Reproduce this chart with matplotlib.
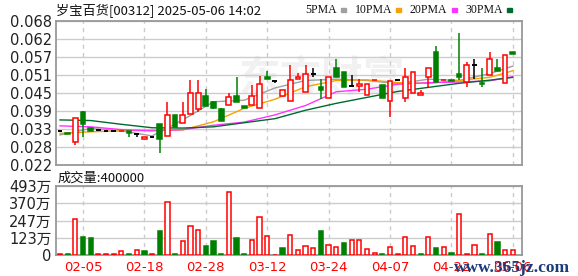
import numpy as np
import matplotlib
matplotlib.use('Agg')
import matplotlib.pyplot as plt

plt.rcParams['font.family'] = ['DejaVu Sans', 'Noto Sans CJK SC']

# daily OHLC (price), one row per trading day
opens = [0.0330, 0.0322, 0.0292, 0.0390, 0.0339, 0.0331, 0.0329, 0.0329, 0.0328, 0.0329,
         0.0319, 0.0302, 0.0308, 0.0351, 0.0312, 0.0380, 0.0353, 0.0383, 0.0399, 0.0440,
         0.0422, 0.0399, 0.0412, 0.0440, 0.0408, 0.0412, 0.0401, 0.0502, 0.0489, 0.0441,
         0.0424, 0.0494, 0.0452, 0.0511, 0.0468, 0.0433, 0.0529, 0.0518, 0.0472, 0.0472,
         0.0443, 0.0491, 0.0476, 0.0424, 0.0491, 0.0433, 0.0451, 0.0444, 0.0502, 0.0580,
         0.0491, 0.0490, 0.0511, 0.0486, 0.0539, 0.0481, 0.0507, 0.0529, 0.0481, 0.0581]
highs = [0.0330, 0.0322, 0.0369, 0.0391, 0.0339, 0.0331, 0.0329, 0.0329, 0.0330, 0.0329,
         0.0319, 0.0308, 0.0308, 0.0352, 0.0422, 0.0380, 0.0422, 0.0492, 0.0492, 0.0462,
         0.0424, 0.0401, 0.0449, 0.0502, 0.0408, 0.0476, 0.0504, 0.0521, 0.0489, 0.0460,
         0.0539, 0.0513, 0.0539, 0.0529, 0.0494, 0.0500, 0.0558, 0.0518, 0.0509, 0.0495,
         0.0478, 0.0493, 0.0476, 0.0489, 0.0491, 0.0530, 0.0518, 0.0460, 0.0529, 0.0600,
         0.0493, 0.0490, 0.0643, 0.0549, 0.0558, 0.0529, 0.0580, 0.0558, 0.0571, 0.0581]
lows = [0.0330, 0.0320, 0.0283, 0.0310, 0.0330, 0.0331, 0.0329, 0.0329, 0.0328, 0.0311,
        0.0310, 0.0302, 0.0308, 0.0259, 0.0312, 0.0342, 0.0353, 0.0383, 0.0390, 0.0409,
        0.0399, 0.0359, 0.0412, 0.0422, 0.0403, 0.0412, 0.0401, 0.0494, 0.0481, 0.0441,
        0.0424, 0.0494, 0.0452, 0.0502, 0.0430, 0.0433, 0.0502, 0.0470, 0.0468, 0.0453,
        0.0443, 0.0491, 0.0433, 0.0372, 0.0491, 0.0422, 0.0451, 0.0444, 0.0470, 0.0486,
        0.0491, 0.0488, 0.0492, 0.0470, 0.0494, 0.0470, 0.0507, 0.0521, 0.0481, 0.0574]
closes = [0.0330, 0.0320, 0.0369, 0.0352, 0.0330, 0.0331, 0.0329, 0.0329, 0.0330, 0.0322,
          0.0319, 0.0308, 0.0308, 0.0302, 0.0380, 0.0342, 0.0380, 0.0449, 0.0449, 0.0409,
          0.0401, 0.0361, 0.0438, 0.0422, 0.0403, 0.0440, 0.0479, 0.0494, 0.0489, 0.0460,
          0.0492, 0.0500, 0.0511, 0.0511, 0.0460, 0.0500, 0.0502, 0.0470, 0.0472, 0.0480,
          0.0478, 0.0493, 0.0433, 0.0489, 0.0491, 0.0500, 0.0518, 0.0451, 0.0529, 0.0486,
          0.0493, 0.0488, 0.0502, 0.0539, 0.0539, 0.0479, 0.0558, 0.0521, 0.0571, 0.0574]

# volume in 万 and whether the volume bar is drawn red (1) or green (0)
volume = [5, 5, 254, 128, 121, 5, 5, 5, 26, 5,
          33, 28, 5, 171, 382, 5, 100, 204, 182, 64,
          100, 5, 453, 121, 5, 104, 275, 133, 0, 50,
          140, 33, 64, 50, 171, 71, 57, 85, 104, 104,
          40, 14, 5, 55, 5, 126, 62, 5, 126, 50,
          55, 14, 292, 5, 69, 5, 147, 92, 36, 36]
vol_up = [1, 0, 1, 0, 0, 1, 1, 1, 1, 0,
          1, 0, 1, 0, 1, 0, 1, 1, 1, 0,
          0, 0, 1, 0, 0, 1, 1, 1, 1, 0,
          1, 1, 1, 1, 0, 1, 1, 0, 1, 1,
          1, 1, 0, 1, 1, 1, 1, 0, 1, 0,
          1, 0, 1, 1, 1, 0, 1, 0, 1, 1]

# moving averages at every 4th day
ma_idx = [0, 4, 8, 12, 16, 20, 24, 28, 32, 36, 40, 44, 48, 52, 56, 59]
ma5 = [0.0316, 0.0337, 0.0329, 0.0313, 0.0364, 0.0422, 0.0427, 0.0466,
       0.0490, 0.0494, 0.0490, 0.0480, 0.0494, 0.0490, 0.0512, 0.0536]
ma10 = [0.0321, 0.0326, 0.0329, 0.0331, 0.0332, 0.0358, 0.0401, 0.0430,
        0.0470, 0.0490, 0.0492, 0.0483, 0.0481, 0.0490, 0.0500, 0.0521]
ma20 = [0.0345, 0.0342, 0.0333, 0.0329, 0.0333, 0.0347, 0.0357, 0.0380,
        0.0410, 0.0454, 0.0462, 0.0478, 0.0483, 0.0485, 0.0489, 0.0502]
ma30 = [0.0364, 0.0362, 0.0350, 0.0339, 0.0338, 0.0342, 0.0355, 0.0368,
        0.0395, 0.0417, 0.0436, 0.0455, 0.0468, 0.0481, 0.0491, 0.0500]

tick_idx = [3, 11, 19, 27, 35, 43, 51, 59]
tick_lbl = ['02-05', '02-18', '02-28', '03-12', '03-24', '04-07', '04-22', '05-06']
price_ticks = [0.022, 0.02775, 0.0335, 0.03925, 0.045, 0.05075, 0.0565, 0.06225, 0.068]
price_lbl = ['0.022', '0.028', '0.033', '0.039', '0.045', '0.051', '0.057', '0.062', '0.068']
vol_ticks = [0, 123.25, 246.5, 369.75, 493]
vol_lbl = ['0', '123万', '247万', '370万', '493万']

RED = '#ff0000'
GREEN = '#008000'
GRID = '#cccccc'
BORDER = '#999999'

fig = plt.figure(figsize=(5.78, 2.76), dpi=100)
ax = fig.add_axes([56 / 578, 1 - 165 / 276, 466 / 578, 144 / 276])
axv = fig.add_axes([56 / 578, 1 - 255 / 276, 466 / 578, 69 / 276])

x = np.arange(len(closes))
w = 0.62

# faint watermark behind candles
ax.text(0.57, 0.6, '东方财富', transform=ax.transAxes, fontsize=30, color='#f1f1f1',
        ha='center', va='center', family=['Noto Sans CJK SC'], fontweight='bold', zorder=0)

for i in x:
    o, h, l, c = opens[i], highs[i], lows[i], closes[i]
    if c > o:
        col, face = RED, 'white'
    elif c < o:
        col, face = GREEN, GREEN
    else:
        col, face = 'black', 'black'
    top, bot = max(o, c), min(o, c)
    if h > top:
        ax.vlines(i, top, h, color=col, lw=1.1, zorder=3)
    if l < bot:
        ax.vlines(i, l, bot, color=col, lw=1.1, zorder=3)
    if top - bot < 0.00015:
        ax.hlines((top + bot) / 2, i - w / 2, i + w / 2, color=col, lw=1.4, zorder=4)
    else:
        ax.bar(i, top - bot, bottom=bot, width=w, facecolor=face, edgecolor=col,
               lw=1.1, zorder=4)

ax.plot(ma_idx, ma5, color='#a0a0a0', lw=1.0, zorder=2)
ax.plot(ma_idx, ma10, color='#f5a300', lw=1.0, zorder=2)
ax.plot(ma_idx, ma20, color='#ff33ff', lw=1.0, zorder=2)
ax.plot(ma_idx, ma30, color='#006a2e', lw=1.0, zorder=2)

for i in x:
    if vol_up[i]:
        axv.bar(i, volume[i], width=0.55, facecolor='white', edgecolor=RED, lw=1.1, zorder=3)
    else:
        axv.bar(i, volume[i], width=0.55, facecolor=GREEN, edgecolor=GREEN, lw=1.1, zorder=3)

for a in (ax, axv):
    a.set_xlim(-0.52, 60.2)
    a.set_xticks(tick_idx)
    a.grid(axis='x', color=GRID, ls=(0, (3, 3)), lw=1)
    a.grid(axis='y', color=GRID, ls='-', lw=1)
    a.set_axisbelow(True)
    for s in a.spines.values():
        s.set_color(BORDER)
        s.set_linewidth(1.3)
    a.tick_params(axis='both', length=0, labelsize=10.5, colors='#222222', pad=3)

ax.set_ylim(0.022, 0.068)
ax.set_yticks(price_ticks)
ax.set_yticklabels(price_lbl)
ax.set_xticklabels([])

axv.set_ylim(0, 493)
axv.set_yticks(vol_ticks)
axv.set_yticklabels(vol_lbl, family=['DejaVu Sans', 'Noto Sans CJK SC'])
axv.set_xticklabels(tick_lbl)
axv.tick_params(axis='x', colors=RED, labelsize=9.5, pad=4)

fig.text(56 / 578, 1 - 11 / 276, '岁宝百货[00312] 2025-05-06 14:02', fontsize=9.5,
         family=['Noto Sans CJK SC'], va='center', ha='left', color='#111111')
fig.text(58 / 578, 1 - 178 / 276, '成交量:400000', fontsize=9.5,
         family=['Noto Sans CJK SC'], va='center', ha='left', color='#111111')

# legend: label, 4px gap, 5px square, 9px gap ... laid out to end at x=512
leg = [('5PMA', '#a0a0a0'), ('10PMA', '#f5a300'),
       ('20PMA', '#ff33ff'), ('30PMA', '#006a2e')]
renderer = fig.canvas.get_renderer()
texts = []
for name, col in leg:
    t = fig.text(0, 1 - 10 / 276, name, fontsize=8.5, family='Liberation Serif',
                 va='center', ha='left', color='#111111')
    texts.append(t)
widths = [t.get_window_extent(renderer).width for t in texts]
xpos = 512 - (sum(widths) + len(leg) * 9 + (len(leg) - 1) * 9)
for t, wd, (name, col) in zip(texts, widths, leg):
    t.set_x(xpos / 578)
    xpos += wd + 4
    fig.patches.append(plt.Rectangle((xpos / 578, 1 - 11.5 / 276), 5 / 578, 3.5 / 276,
                                     transform=fig.transFigure, color=col))
    xpos += 5 + 9

fig.text(512 / 578, 1 - 268 / 276, 'www.365jz.com', fontsize=12.5, family='Liberation Serif',
         fontweight='bold', color='#1a3d7a', va='center', ha='center')

fig.savefig('out.png', dpi=100)
